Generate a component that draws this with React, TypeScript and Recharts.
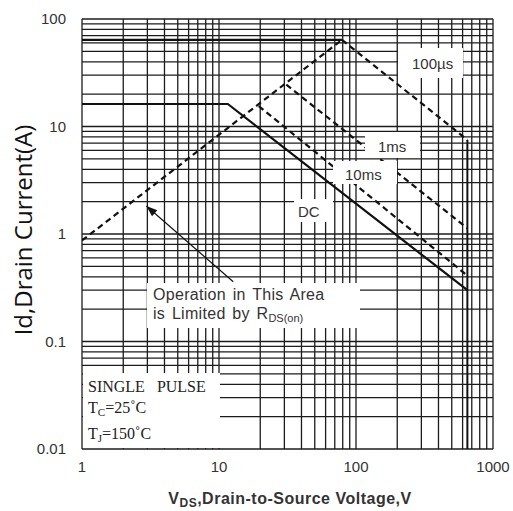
import React from 'react'
import { ComposedChart, Line, XAxis, YAxis, ReferenceLine } from 'recharts'

// ── axis ticks & log grid ────────────────────────────────────────────────────
const X_TICKS = [1, 10, 100, 1000]
const Y_TICKS = [0.01, 0.1, 1, 10, 100]

const GRID_V = [
  1, 2, 3, 4, 5, 6, 7, 8, 9,
  10, 20, 30, 40, 50, 60, 70, 80, 90,
  100, 200, 300, 400, 500, 600, 700, 800, 900, 1000,
]
const GRID_I = [
  0.01, 0.02, 0.03, 0.04, 0.05, 0.06, 0.07, 0.08, 0.09,
  0.1, 0.2, 0.3, 0.4, 0.5, 0.6, 0.7, 0.8, 0.9,
  1, 2, 3, 4, 5, 6, 7, 8, 9,
  10, 20, 30, 40, 50, 60, 70, 80, 90, 100,
]

// ── SOA boundaries (V in volts, I in amps) ───────────────────────────────────
const RDS_ON = [{ v: 1, i: 0.87 }, { v: 79, i: 64 }]
const US100_FLAT = [{ v: 1, i: 64 }, { v: 79, i: 64 }]
const US100 = [{ v: 79, i: 64 }, { v: 650, i: 7.5 }]
const BV_LIMIT = [{ v: 650, i: 7.5 }, { v: 650, i: 0.01 }]
const MS1 = [{ v: 31, i: 24.5 }, { v: 650, i: 1.13 }]
const MS10 = [{ v: 19.5, i: 15.5 }, { v: 650, i: 0.41 }]
const DC = [{ v: 1, i: 16.2 }, { v: 11.6, i: 16.2 }, { v: 650, i: 0.3 }]
const ARROW = [{ v: 12.7, i: 0.36 }, { v: 2.95, i: 1.82 }]

const INK = '#111'
const GRID = '#1c1c1c'
const DASH = '6 4'

const tickStyle = { fontFamily: 'Arial, "Liberation Sans", sans-serif', fontSize: 15, fill: '#333' }

const fmtTick = (v: number) => String(v)

// arrow head drawn on the last point of the annotation line
const arrowHead = (props: any) => {
  const { cx, cy, index, points } = props
  if (index !== ARROW.length - 1 || !points || !points[index - 1]) return <g key={`a${index}`} />
  const p0 = points[index - 1]
  const ang = Math.atan2(cy - p0.y, cx - p0.x)
  const len = 11
  const half = 4
  const bx = cx - len * Math.cos(ang)
  const by = cy - len * Math.sin(ang)
  const nx = -Math.sin(ang) * half
  const ny = Math.cos(ang) * half
  return (
    <path
      key={`a${index}`}
      d={`M${cx},${cy} L${bx + nx},${by + ny} L${bx - nx},${by - ny} Z`}
      fill={INK}
    />
  )
}

const box = (x: number, y: number, w: number, h: number): React.CSSProperties => ({
  position: 'absolute', left: x, top: y, width: w, height: h, background: '#fff',
})

const sans: React.CSSProperties = { fontFamily: 'Arial, "Liberation Sans", sans-serif', color: '#333' }

export default function App() {
  return (
    <div style={{ position: 'fixed', left: 0, top: 0, width: 513, height: 511, background: '#fff' }}>
      <ComposedChart width={513} height={511} margin={{ top: 19, right: 20, left: 0, bottom: 0 }}>
        <XAxis
          dataKey="v"
          type="number"
          scale="log"
          domain={[1, 1000]}
          ticks={X_TICKS}
          tickFormatter={fmtTick}
          allowDataOverflow
          axisLine={false}
          tickLine={false}
          tickSize={0}
          tickMargin={12}
          height={62}
          tick={tickStyle}
          label={{
            content: () => (
              <text
                x={290}
                y={504}
                textAnchor="middle"
                style={{ fontFamily: 'Arial, "Liberation Sans", sans-serif', fontWeight: 700, fontSize: 16, fill: '#333', letterSpacing: 0.5 }}
              >
                V<tspan fontSize={12} dy={3}>DS</tspan>
                <tspan dy={-3}>,Drain-to-Source Voltage,V</tspan>
              </text>
            ),
          }}
        />
        <YAxis
          dataKey="i"
          type="number"
          scale="log"
          domain={[0.01, 100]}
          ticks={Y_TICKS}
          tickFormatter={fmtTick}
          allowDataOverflow
          axisLine={false}
          tickLine={false}
          tickSize={0}
          tickMargin={16}
          width={82}
          tick={tickStyle}
          label={{
            content: () => (
              <text
                x={22}
                y={230}
                transform="rotate(-90 22 230)"
                textAnchor="middle"
                dominantBaseline="central"
                style={{ fontFamily: '"Open Sans", sans-serif', fontSize: 24, fill: '#111' }}
              >
                Id,Drain Current(A)
              </text>
            ),
          }}
        />

        {GRID_V.map((v) => (
          <ReferenceLine key={`gv${v}`} x={v} stroke={GRID} strokeWidth={1.3} />
        ))}
        {GRID_I.map((i) => (
          <ReferenceLine key={`gi${i}`} y={i} stroke={GRID} strokeWidth={1.3} />
        ))}

        <Line data={RDS_ON} dataKey="i" stroke={INK} strokeWidth={2.2} strokeDasharray={DASH} dot={false} isAnimationActive={false} />
        <Line data={US100_FLAT} dataKey="i" stroke={INK} strokeWidth={2.2} dot={false} isAnimationActive={false} />
        <Line data={US100} dataKey="i" stroke={INK} strokeWidth={2.2} strokeDasharray={DASH} dot={false} isAnimationActive={false} />
        <Line data={BV_LIMIT} dataKey="i" stroke={INK} strokeWidth={2} dot={false} isAnimationActive={false} />
        <Line data={MS1} dataKey="i" stroke={INK} strokeWidth={2.2} strokeDasharray={DASH} dot={false} isAnimationActive={false} />
        <Line data={MS10} dataKey="i" stroke={INK} strokeWidth={2.2} strokeDasharray={DASH} dot={false} isAnimationActive={false} />
        <Line data={DC} dataKey="i" stroke={INK} strokeWidth={2.2} dot={false} isAnimationActive={false} />
        <Line data={ARROW} dataKey="i" stroke={INK} strokeWidth={1.2} dot={arrowHead} activeDot={false} isAnimationActive={false} />
      </ComposedChart>

      {/* curve labels */}
      <div style={box(398, 48, 65, 30)} />
      <div style={{ ...sans, position: 'absolute', left: 412, top: 55, fontSize: 15 }}>100µs</div>

      <div style={box(365, 132, 55, 26)} />
      <div style={{ ...sans, position: 'absolute', left: 378, top: 138, fontSize: 15 }}>1ms</div>

      <div style={box(333, 161, 64, 23)} />
      <div style={{ ...sans, position: 'absolute', left: 345, top: 166, fontSize: 15 }}>10ms</div>

      <div style={box(294, 199, 39, 23)} />
      <div style={{ ...sans, position: 'absolute', left: 298, top: 203, fontSize: 15 }}>DC</div>

      {/* R_DS(on) note */}
      <div style={box(147, 283, 213, 45)} />
      <div style={{ ...sans, position: 'absolute', left: 153, top: 285, fontSize: 16, lineHeight: '19px', wordSpacing: 2, letterSpacing: 0.3 }}>
        <div>Operation in This Area</div>
        <div>
          is Limited by R<span style={{ fontSize: 11, verticalAlign: -3, letterSpacing: 0 }}>DS(on)</span>
        </div>
      </div>

      {/* test conditions */}
      <div style={box(83, 373, 137, 75)} />
      <div
        style={{
          position: 'absolute', left: 88, top: 376, fontFamily: '"Liberation Serif", "Times New Roman", serif',
          fontSize: 16, lineHeight: '21px', color: '#222',
        }}
      >
        <div>SINGLE&nbsp;&nbsp; PULSE</div>
        <div>T<span style={{ fontSize: 11, verticalAlign: -3 }}>C</span>=25˚C</div>
        <div>T<span style={{ fontSize: 11, verticalAlign: -3 }}>J</span>=150˚C</div>
      </div>
    </div>
  )
}
